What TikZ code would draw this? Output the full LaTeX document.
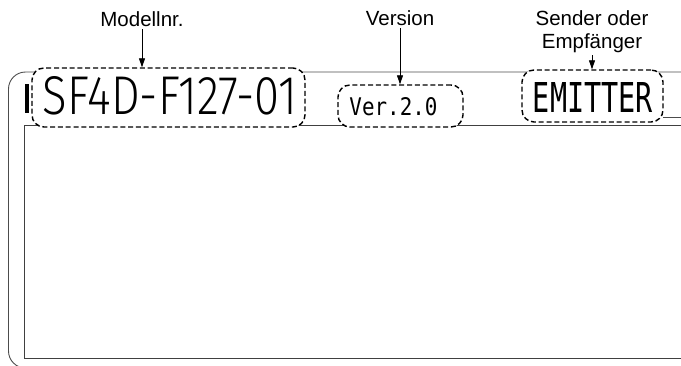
\documentclass[tikz,border=0pt]{standalone}
\usepackage{graphicx}
\usepackage{fontspec}
\setmainfont{Liberation Sans}
\newfontfamily\dvmono{DejaVu Sans Mono}
\newfontfamily\lightsans{Fira Sans Light}
\usetikzlibrary{arrows.meta}
\begin{document}
\begin{tikzpicture}[x=1pt,y=-1pt,
  frame/.style={draw=black!70,line width=0.9pt},
  innerframe/.style={draw=black!75,line width=1pt},
  dbox/.style={draw=black,fill=white,line width=1.4pt,dash pattern=on 5pt off 2.8pt,rounded corners=12pt,inner sep=0pt},
  lbl/.style={font=\fontsize{20.5}{23}\selectfont,inner sep=0pt,anchor=base},
  txt/.style={inner sep=0pt},
  arr/.style={draw=black,line width=0.8pt,-{Triangle[length=9pt,width=6pt]},shorten <=3pt}]
\useasboundingbox (0,0) rectangle (681,365);
\begin{scope}
  \clip (0,0) rectangle (681,365);
  \draw[frame,rounded corners=17pt] (690,72) -- (8.5,72) -- (8.5,368) -- (690,368);
  \draw[innerframe] (690,125) -- (24,125) -- (24,358) -- (690,358);
  \draw[frame] (663,117) -- (690,117);
\end{scope}
\fill[black] (24.5,84) rectangle (28.5,113);
% dashed callout boxes
\node[dbox,minimum width=273pt,minimum height=59pt] (modelbox) at (168.5,97.5) {};
\node[dbox,minimum width=125pt,minimum height=42pt] (verbox) at (400.5,106) {};
\node[dbox,minimum width=141pt,minimum height=52pt] (emitbox) at (592.5,96) {};
% display texts
\node[txt] (model) at (170,96) {\resizebox{254pt}{38pt}{\lightsans SF4D-F127-01}};
\node[txt] (ver) at (393.5,106.5) {\resizebox{88pt}{18pt}{\dvmono Ver.2.0}};
\node[txt] (emit) at (593,97) {\resizebox{120pt}{30pt}{\dvmono EMITTER}};
% labels
\node[lbl] (lmodel) at (142,26) {Modellnr.};
\node[lbl] (lver) at (400,25) {Version};
\node[lbl] (lsend1) at (592,25) {Sender oder};
\node[lbl] (lsend2) at (592,48) {Empfänger};
% arrows
\draw[arr] (lmodel.south) -- (lmodel.south |- modelbox.north);
\draw[arr] (lver.south) -- (lver.south |- verbox.north);
\draw[arr] (lsend2.south) -- (lsend2.south |- emitbox.north);
\end{tikzpicture}
\end{document}
